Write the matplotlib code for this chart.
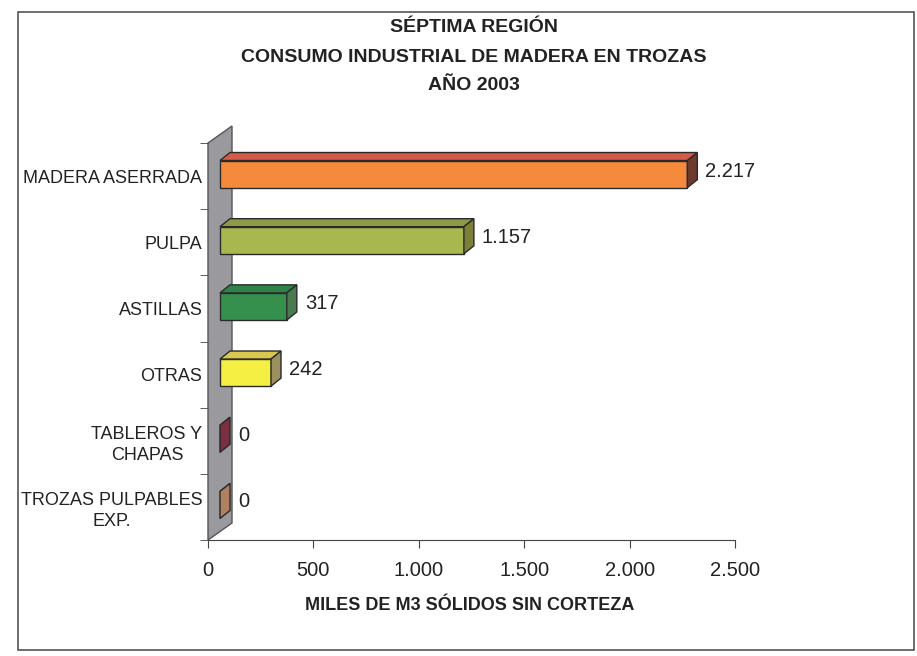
import matplotlib.pyplot as plt
from matplotlib.patches import Polygon, Rectangle

# data
categories = ['MADERA ASERRADA', 'PULPA', 'ASTILLAS', 'OTRAS',
              'TABLEROS Y\nCHAPAS', 'TROZAS PULPABLES\nEXP.']
values = [2217, 1157, 317, 242, 0, 0]
value_labels = ['2.217', '1.157', '317', '242', '0', '0']
xticks = [0, 500, 1000, 1500, 2000, 2500]
xtick_labels = ['0', '500', '1.000', '1.500', '2.000', '2.500']

front_colors = ['#F58A3C', '#A9B84E', '#35904E', '#F4EF42', '#8A3848', '#A87A58']
top_colors = ['#D65A4A', '#8E9A48', '#2E8448', '#D8C850', '#8A3848', '#A87A58']
side_colors = ['#6E3A2C', '#7C8038', '#4A7A50', '#9C9060', '#7A3040', '#B08060']

plt.rcParams['font.family'] = ['Liberation Sans', 'DejaVu Sans']

W, H = 917, 656
fig = plt.figure(figsize=(W / 100, H / 100), dpi=100)
fig.patch.set_facecolor('white')

# axes placed in pixels: x 0 -> 208 px, 2500 -> 735 px, rows 143 -> 540 px
ax_l, ax_r, ax_t, ax_b = 208, 735, 143, 540
ax = fig.add_axes([ax_l / W, 1 - ax_b / H, (ax_r - ax_l) / W, (ax_b - ax_t) / H])
ax.set_xlim(0, 2500)
ax.set_ylim(5.5, -0.5)

# pixel -> data unit helpers
sx = 2500 / (ax_r - ax_l)
sy = 6 / (ax_b - ax_t)

# back wall (fake 3D)
wdx, wdy = 24 * sx, 17 * sy
wall = Polygon([(0, 5.5), (0, -0.5), (wdx, -0.5 - wdy), (wdx, 5.5 - wdy)],
               closed=True, facecolor='#9A9A9E', edgecolor='#555555',
               linewidth=1, zorder=1, clip_on=False)
ax.add_patch(wall)

# bars
shift = 12 * sx
h = 0.41
ddx, ddy = 10 * sx, 8 * sy
ypos = [i - 2 * sy for i in range(len(values))]
ax.barh(ypos, values, left=shift, height=h, color=front_colors,
        edgecolor='#2a2a2a', linewidth=1, zorder=3)
for y, v, tc, sc in zip(ypos, values, top_colors, side_colors):
    x0, x1 = shift, shift + v
    yt, yb = y - h / 2, y + h / 2
    top = Polygon([(x0, yt), (x1, yt), (x1 + ddx, yt - ddy), (x0 + ddx, yt - ddy)],
                  closed=True, facecolor=tc, edgecolor='#2a2a2a', linewidth=1,
                  zorder=3, clip_on=False)
    side = Polygon([(x1, yt), (x1, yb), (x1 + ddx, yb - ddy), (x1 + ddx, yt - ddy)],
                   closed=True, facecolor=sc, edgecolor='#2a2a2a', linewidth=1,
                   zorder=3, clip_on=False)
    ax.add_patch(top)
    ax.add_patch(side)

# value labels
for y, v, lab in zip(ypos, values, value_labels):
    ax.text(v + shift + ddx + 8 * sx, y - 3 * sy, lab, fontsize=14.5,
            color='#222222', va='center', ha='left', zorder=4)

# axes styling
for s in ['top', 'right', 'left']:
    ax.spines[s].set_visible(False)
ax.spines['bottom'].set_color('#444444')
ax.set_xticks(xticks)
ax.set_xticklabels(xtick_labels, fontsize=14.5, color='#222222')
ax.tick_params(axis='x', direction='out', length=6, color='#444444', pad=9)

ax.set_yticks(range(len(categories)))
ax.set_yticklabels(categories, fontsize=13, color='#222222')
for t in ax.get_yticklabels():
    t.set_multialignment('center')
    t.set_linespacing(1.3)
ax.tick_params(axis='y', which='major', length=0, pad=4)
ax.set_yticks([i - 0.5 for i in range(len(categories) + 1)], minor=True)
ax.tick_params(axis='y', which='minor', direction='out', length=6, color='#444444')
ax.set_facecolor('none')

# titles
title_font = dict(fontsize=14, fontweight='bold', color='#222222',
                  ha='center', va='center')
fig.text(474 / W, 1 - 28 / H, 'SÉPTIMA REGIÓN', **title_font)
fig.text(474 / W, 1 - 58 / H, 'CONSUMO INDUSTRIAL DE MADERA EN TROZAS', **title_font)
fig.text(474 / W, 1 - 86 / H, 'AÑO 2003', **title_font)

fig.text(470 / W, 1 - 606 / H, 'MILES DE M3 SÓLIDOS SIN CORTEZA', fontsize=13,
         fontweight='bold', color='#222222', ha='center', va='center')

# outer chart frame
frame = Rectangle((18 / W, 1 - 650 / H), (914 - 18) / W, (650 - 12) / H,
                  transform=fig.transFigure, fill=False, edgecolor='#555555',
                  linewidth=1.2)
fig.patches.append(frame)

fig.savefig('out.png', dpi=100)
